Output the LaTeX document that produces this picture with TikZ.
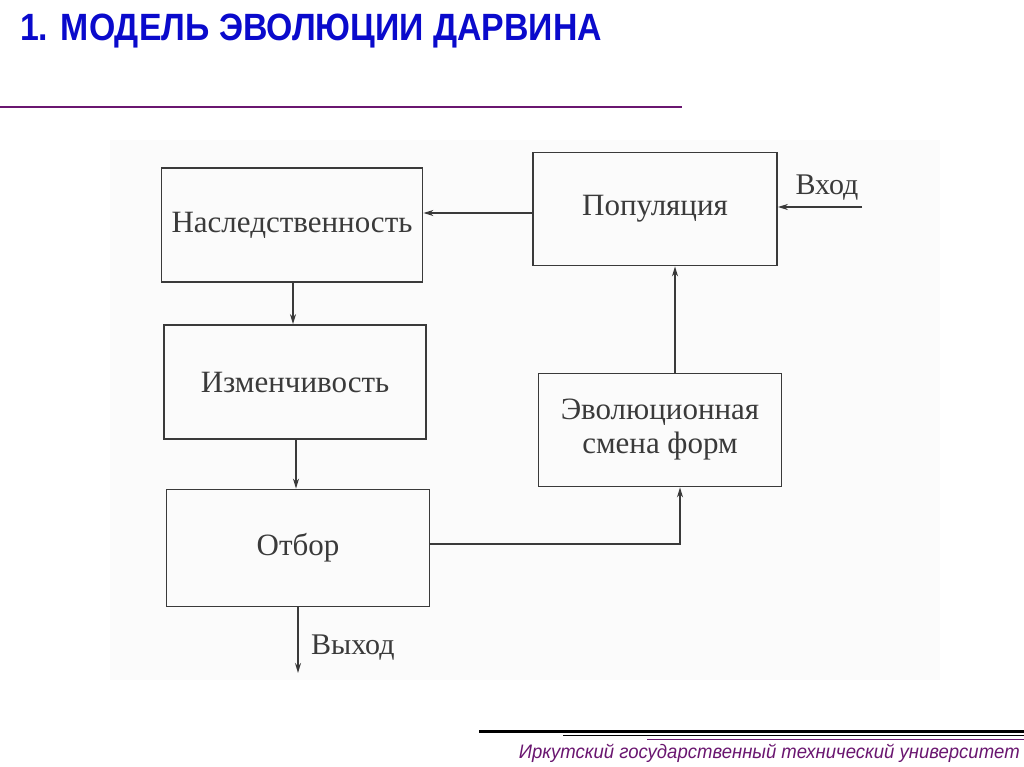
\documentclass[tikz,border=0pt]{standalone}
\usepackage{fontspec}
\setmainfont{Liberation Serif}
\newfontfamily\titlefont{Liberation Sans}
\usetikzlibrary{arrows.meta}
\definecolor{ink}{HTML}{3A3A3A}
\definecolor{titleblue}{HTML}{0A0ACC}
\definecolor{plum}{HTML}{6A1670}
\tikzset{
  blk/.style={draw=ink, line width=1.8pt, minimum width=#1, minimum height=114pt, inner sep=0pt, font=\fontsize{31}{35}\selectfont, text=ink, align=center},
  conn/.style={draw=ink, line width=1.5pt, -{Stealth[length=10pt,width=6pt]}},
  lbl/.style={font=\fontsize{30}{34}\selectfont, text=ink, inner sep=0pt}
}
\begin{document}
\begin{tikzpicture}[x=1pt,y=-1pt]
\useasboundingbox (0,0) rectangle (1024,767);
\fill[white] (0,0) rectangle (1024,767);
\fill[black!1.5] (110,140) rectangle (940,680);
% title
\node[anchor=west, inner sep=0pt, text=titleblue, xscale=0.89, font=\titlefont\bfseries\fontsize{38}{42}\selectfont] (title) at (20,31) {1. МОДЕЛЬ ЭВОЛЮЦИИ ДАРВИНА};
\draw[plum, line width=1.5pt] (0,107) -- (682,107);
% boxes
\node[blk=261pt] (nasl) at (292,225) {Наследственность};
\node[blk=244pt, minimum height=113pt] (pop) at (655,209) {Популяция};
\node[blk=262pt] (izm) at (295,382) {Изменчивость};
\node[blk=243pt, minimum height=113pt] (evo) at (660,430) {Эволюционная\\[-1pt]смена форм};
\node[blk=263pt, minimum height=117pt] (otb) at (298,548) {Отбор};
% connectors
\coordinate (vin) at (862,207);
\coordinate (vout) at (298,673);
\coordinate (corner) at (680,544);
\draw[conn] (pop.west |- 0,213) -- (nasl.east |- 0,213);
\draw[conn] (vin) -- (pop.east |- vin);
\node[lbl, anchor=south] (vhod) at (827,201) {Вход};
\draw[conn] (nasl.south -| 293,0) -- (izm.north -| 293,0);
\draw[conn] (izm.south -| 296,0) -- (otb.north -| 296,0);
\draw[conn] (otb.east |- corner) -- (corner) -- (evo.south -| corner);
\draw[conn] (evo.north -| 675,0) -- (pop.south -| 675,0);
\draw[conn] (otb.south -| vout) -- (vout);
\node[lbl, anchor=west] (vyhod) at (311,648) {Выход};
% footer
\draw[black, line width=3pt] (479,731.5) -- (1024,731.5);
\draw[black, line width=1.6pt] (563,735.5) -- (1024,735.5);
\draw[plum, line width=1pt] (647,739.5) -- (1024,739.5);
\node[anchor=east, inner sep=0pt, text=plum, xscale=0.95, font=\titlefont\itshape\fontsize{19.5}{24}\selectfont] (foot) at (1020,753) {Иркутский государственный технический университет};
\end{tikzpicture}
\end{document}
